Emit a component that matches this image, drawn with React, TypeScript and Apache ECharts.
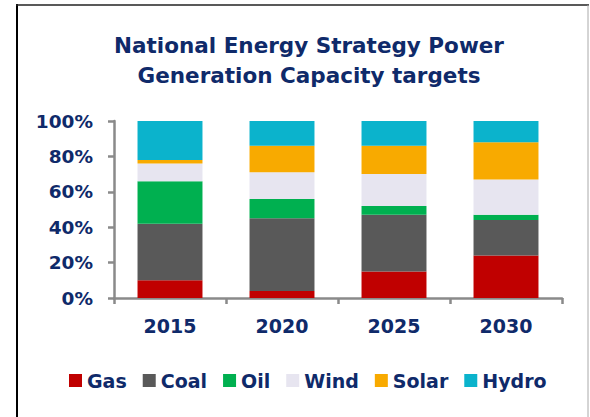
import React, { useEffect, useRef } from "react";
import * as echarts from "echarts";

const years = ["2015", "2020", "2025", "2030"];
const gas = [10, 4, 15, 24];
const coal = [32, 41, 32, 20];
const oil = [24, 11, 5, 3];
const wind = [10, 15, 18, 20];
const solar = [2, 15, 16, 21];
const hydro = [22, 14, 14, 12];

const seriesNames = ["Gas", "Coal", "Oil", "Wind", "Solar", "Hydro"];
const seriesData = [gas, coal, oil, wind, solar, hydro];
const colors = ["#c00000", "#595959", "#00b050", "#e7e5f0", "#f8aa00", "#0bb3cc"];

const NAVY = "#0f2a6a";
const FONT = "DejaVu Sans";

export default function App() {
  const ref = useRef<HTMLDivElement>(null);
  useEffect(() => {
    if (!ref.current) return;
    const chart = echarts.init(ref.current, null, { renderer: "svg" });
    chart.setOption({
      animation: false,
      backgroundColor: "#ffffff",
      title: {
        text: "National Energy Strategy Power\nGeneration Capacity targets",
        left: 304,
        top: 25,
        textAlign: "center",
        textStyle: {
          fontFamily: FONT,
          fontWeight: "bold",
          fontSize: 21.5,
          lineHeight: 30,
          color: NAVY,
        },
      },
      legend: {
        data: seriesNames,
        left: 64,
        top: 366,
        itemWidth: 13,
        itemHeight: 13,
        itemGap: 16,
        icon: "rect",
        textStyle: { fontFamily: FONT, fontWeight: "bold", fontSize: 19, color: NAVY },
      },
      grid: { left: 114, right: 28, top: 121, bottom: 119 },
      xAxis: {
        type: "category",
        data: years,
        axisLine: { lineStyle: { color: "#8a8a8a", width: 2.5 } },
        axisTick: { show: true, length: 6, lineStyle: { color: "#8a8a8a", width: 2.5 } },
        axisLabel: { fontFamily: FONT, fontWeight: "bold", fontSize: 19, color: NAVY, margin: 18 },
      },
      yAxis: {
        type: "value",
        min: 0,
        max: 100,
        interval: 20,
        axisLine: { show: true, lineStyle: { color: "#8a8a8a", width: 2.5 } },
        axisTick: { show: true, length: 6, lineStyle: { color: "#8a8a8a", width: 2.5 } },
        splitLine: { show: false },
        axisLabel: {
          formatter: "{value}%",
          fontFamily: FONT,
          fontWeight: "bold",
          fontSize: 18.5,
          color: NAVY,
          margin: 21,
        },
      },
      series: seriesNames.map((name, i) => ({
        name,
        type: "bar",
        stack: "total",
        barWidth: "58%",
        data: seriesData[i],
        itemStyle: { color: colors[i] },
      })),
      graphic: [
        { type: "line", shape: { x1: 17, y1: 4, x2: 17, y2: 417 }, style: { stroke: "#000", lineWidth: 2 } },
        { type: "line", shape: { x1: 16, y1: 5, x2: 589, y2: 5 }, style: { stroke: "#222", lineWidth: 1.5 } },
        { type: "line", shape: { x1: 588, y1: 5, x2: 588, y2: 417 }, style: { stroke: "#aaa", lineWidth: 1 } },
      ],
    });
    return () => chart.dispose();
  }, []);
  return <div ref={ref} style={{ width: 590, height: 417, position: "absolute", left: 0, top: 0 }} />;
}
